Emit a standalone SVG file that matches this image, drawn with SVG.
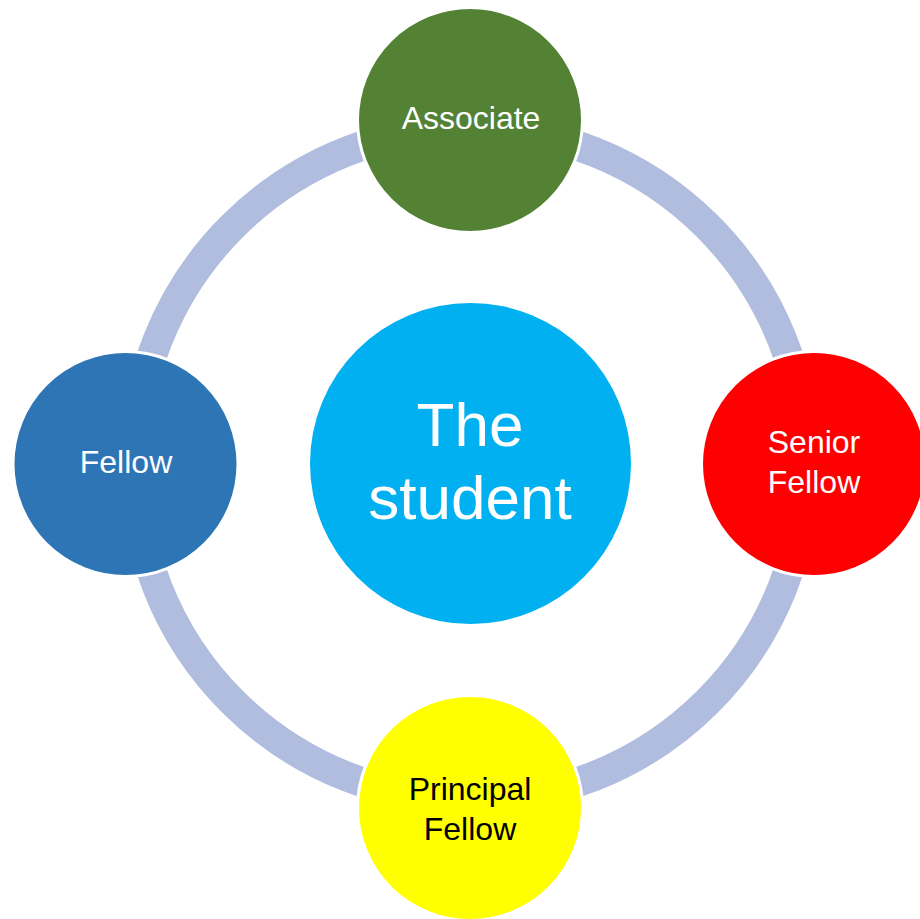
<svg xmlns="http://www.w3.org/2000/svg" width="920" height="919" viewBox="0 0 920 919">
  <style>
    .ring { fill: none; stroke: #B1BDDF; stroke-width: 30; }
    .node { stroke: #FFFFFF; stroke-width: 3; }
    .lbl { font-family: "Liberation Sans", Arial, sans-serif; text-anchor: middle; fill: #FFFFFF; font-size: 32px; }
    .dark { fill: #000000; }
    .big { font-size: 62px; }
  </style>
  <rect width="920" height="919" fill="#FFFFFF"/>

  <!-- cycle ring linking the four stages -->
  <g id="connectors">
    <circle class="ring" cx="470" cy="464" r="336"/>
  </g>

  <g id="center">
    <circle cx="470.5" cy="463.5" r="160.5" fill="#00B0F0"/>
    <text class="lbl big" x="470" y="446">The</text>
    <text class="lbl big" x="470" y="519">student</text>
  </g>

  <g id="associate">
    <circle class="node" cx="470" cy="120" r="112.5" fill="#548235"/>
    <text class="lbl" x="471" y="129">Associate</text>
  </g>

  <g id="senior-fellow">
    <circle class="node" cx="814" cy="464" r="112.5" fill="#FF0000"/>
    <text class="lbl" x="814" y="453">Senior</text>
    <text class="lbl" x="814" y="493">Fellow</text>
  </g>

  <g id="principal-fellow">
    <circle class="node" cx="470" cy="808" r="112.5" fill="#FFFF00"/>
    <text class="lbl dark" x="470" y="800">Principal</text>
    <text class="lbl dark" x="470" y="840">Fellow</text>
  </g>

  <g id="fellow">
    <circle class="node" cx="125.5" cy="464" r="112.5" fill="#2E75B6"/>
    <text class="lbl" x="126" y="473">Fellow</text>
  </g>
</svg>
